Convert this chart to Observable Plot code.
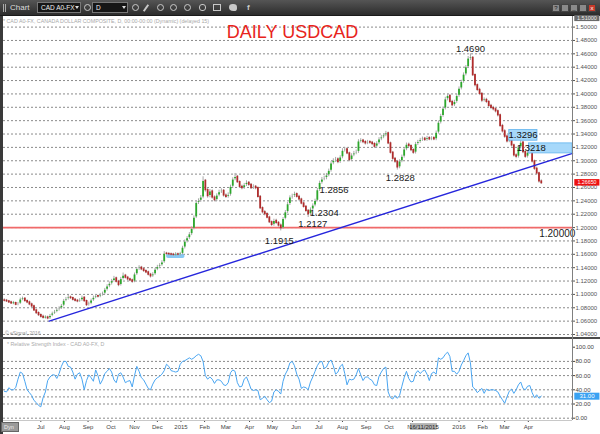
<!DOCTYPE html>
<html><head><meta charset="utf-8">
<script src="https://cdn.jsdelivr.net/npm/d3@7"></script>
<script src="https://cdn.jsdelivr.net/npm/@observablehq/plot@0.6"></script>
<style>
html,body{margin:0;padding:0;background:#fff;}
#wrap{position:relative;width:600px;height:434px;overflow:hidden;font-family:"Liberation Sans",Arial,sans-serif;background:#fff;}
.abs{position:absolute;}
#tb{left:0;top:0;width:600px;height:16px;background:linear-gradient(#555,#2c2c2c);border-bottom:1px solid #1a1a1a;box-sizing:border-box;}
#tb .t{position:absolute;color:#ddd;font-size:8px;top:3px;}
#tb .box{position:absolute;top:2px;height:11px;background:#161616;border:1px solid #777;box-sizing:border-box;color:#eee;font-size:6.5px;line-height:9px;padding-left:3px;white-space:nowrap;}
#tb .arr{position:absolute;top:3px;width:0;height:0;border-left:2.5px solid transparent;border-right:2.5px solid transparent;border-top:3px solid #ddd;}
#tb .ic{position:absolute;top:4px;width:7px;height:7px;border:1.4px solid #c8c8c8;border-radius:50%;box-sizing:border-box;}
#tb .wb{position:absolute;top:4px;width:8px;height:8px;background:#8a8a8a;border:1px solid #444;box-sizing:border-box;color:#222;font-size:6px;line-height:6px;text-align:center;}
#main{left:0;top:16px;}
#rsi{left:0;top:338px;}
svg{overflow:visible;}
</style></head>
<body>
<div id="wrap">
  <div id="tb" class="abs">
    <div class="abs" style="left:3px;top:4px;width:1px;height:8px;background:#aaa"></div>
    <div class="abs" style="left:5px;top:4px;width:1px;height:8px;background:#aaa"></div>
    <span class="t" style="left:10px">Chart</span>
    <div class="box" style="left:37px;width:44px">CAD A0-FX<div class="arr" style="left:37px"></div></div>
    <div class="ic" style="left:84px"></div>
    <div class="box" style="left:92px;width:36px">D<div class="arr" style="left:29px"></div></div>
    <div class="ic" style="left:132px"></div>
    <div class="abs" style="left:145px;top:4px;width:2px;height:8px;background:#c8c8c8;transform:rotate(35deg)"></div>
    <div class="ic" style="left:157px"></div>
    <div class="ic" style="left:170px"></div>
    <div class="ic" style="left:184px"></div>
    <div class="ic" style="left:199px;border-radius:3px"></div>
    <div class="abs" style="left:213px;top:4px;width:8px;height:7px;border:1.4px solid #c8c8c8;box-sizing:border-box"></div>
    <div class="abs" style="left:229px;top:4px;width:8px;height:7px;background:#c8c8c8;border-radius:50% 50% 40% 60%"></div>
    <span class="t" style="left:247px;font-weight:bold;color:#ccc">f</span>
    <div class="wb" style="left:552px">?</div>
    <div class="wb" style="left:561px"></div>
    <div class="wb" style="left:570px">_</div>
    <div class="wb" style="left:579px"></div>
    <div class="wb" style="left:588px;background:#c83a2a;color:#fff">x</div>
  </div>
  <div id="main" class="abs"></div>
  <div id="rsi" class="abs"></div>
  <div class="abs" style="left:3px;top:17.5px;font-size:5.3px;color:#a8a8a8;white-space:nowrap">* CAD A0-FX, CANADA DOLLAR COMPOSITE, D, 00:00-00:00 (Dynamic) (delayed 15)</div>
  <div class="abs" style="left:0;width:585px;top:23px;text-align:center;font-size:18px;line-height:18px;color:#e8231b">DAILY USDCAD</div>
  <div class="abs" style="left:5px;top:330px;font-size:5px;color:#999">© eSignal, 2016</div>
  <div class="abs" style="left:7px;top:340.5px;font-size:5.3px;color:#aaa;white-space:nowrap">* Relative Strength Index - CAD A0-FX, D</div>
  <div class="abs" style="left:0;top:16px;width:3px;height:418px;background:#3a3a3a"></div>
  <div class="abs" style="left:0;top:337px;width:600px;height:1.5px;background:#4a4a4a"></div>
  <div class="abs" style="left:572px;top:16px;width:1px;height:404px;background:#808080"></div>
  <div class="abs" style="left:3px;top:420px;width:569px;height:1px;background:#c8c8c8"></div>
  <div class="abs" style="left:1px;top:422px;width:18px;height:10px;background:#9a9a9a;border:1px solid #666;box-sizing:border-box;font-size:5.5px;color:#eee;line-height:8px;padding-left:2px">Dyn</div>
</div>
<script>
// ---- price candles (one bar every 3 calendar days from 2014-05-14) ----
const barStart = "2014-05-14";
const barStepDays = 3;
const open = [1.0910,1.0905,1.0895,1.0880,1.0865,1.0870,1.0845,1.0860,1.0925,1.0935,
1.0900,1.0880,1.0850,1.0820,1.0760,1.0720,1.0690,1.0665,1.0650,1.0655,
1.0640,1.0680,1.0715,1.0740,1.0770,1.0790,1.0830,1.0905,1.0930,1.0955,
1.0945,1.0920,1.0905,1.0895,1.0910,1.0950,1.0900,1.0840,1.0860,1.0910,
1.0950,1.0975,1.0965,1.0990,1.1010,1.1070,1.1120,1.1160,1.1200,1.1240,
1.1190,1.1140,1.1230,1.1280,1.1250,1.1225,1.1210,1.1190,1.1300,1.1380,
1.1400,1.1375,1.1350,1.1330,1.1295,1.1270,1.1300,1.1370,1.1410,1.1435,
1.1480,1.1610,1.1605,1.1600,1.1595,1.1590,1.1600,1.1595,1.1605,1.1700,
1.1790,1.1840,1.1900,1.1980,1.2150,1.2370,1.2400,1.2450,1.2700,1.2560,
1.2470,1.2540,1.2450,1.2410,1.2480,1.2530,1.2550,1.2480,1.2460,1.2490,
1.2610,1.2720,1.2760,1.2680,1.2610,1.2590,1.2635,1.2670,1.2640,1.2590,
1.2610,1.2590,1.2460,1.2290,1.2230,1.2200,1.2150,1.2080,1.2040,1.2100,
1.2070,1.2030,1.1990,1.2130,1.2230,1.2350,1.2450,1.2470,1.2500,1.2460,
1.2420,1.2360,1.2310,1.2250,1.2200,1.2270,1.2330,1.2400,1.2560,1.2670,
1.2720,1.2740,1.2780,1.2850,1.2960,1.3000,1.3020,1.2980,1.3050,1.3150,
1.3170,1.3110,1.3010,1.3080,1.3110,1.3130,1.3290,1.3300,1.3280,1.3260,
1.3280,1.3270,1.3250,1.3210,1.3260,1.3320,1.3350,1.3380,1.3410,1.3260,
1.3120,1.3030,1.2985,1.2900,1.2990,1.3060,1.3170,1.3240,1.3220,1.3160,
1.3120,1.3250,1.3280,1.3310,1.3330,1.3310,1.3340,1.3320,1.3340,1.3320,
1.3420,1.3570,1.3670,1.3780,1.3920,1.3970,1.3880,1.3830,1.3880,1.3970,
1.4080,1.4180,1.4290,1.4400,1.4530,1.4540,1.4280,1.4130,1.4060,1.4000,
1.3900,1.3910,1.3880,1.3820,1.3790,1.3770,1.3740,1.3680,1.3520,1.3440,
1.3360,1.3290,1.3320,1.3230,1.3080,1.3060,1.3200,1.3270,1.3130,1.3060,
1.3120,1.3170,1.2990,1.2880,1.2810,1.2690];
const close = [1.0905,1.0895,1.0880,1.0865,1.0870,1.0845,1.0860,1.0925,1.0935,1.0900,
1.0880,1.0850,1.0820,1.0760,1.0720,1.0690,1.0665,1.0650,1.0655,1.0640,
1.0680,1.0715,1.0740,1.0770,1.0790,1.0830,1.0905,1.0930,1.0955,1.0945,
1.0920,1.0905,1.0895,1.0910,1.0950,1.0900,1.0840,1.0860,1.0910,1.0950,
1.0975,1.0965,1.0990,1.1010,1.1070,1.1120,1.1160,1.1200,1.1240,1.1190,
1.1140,1.1230,1.1280,1.1250,1.1225,1.1210,1.1190,1.1300,1.1380,1.1400,
1.1375,1.1350,1.1330,1.1295,1.1270,1.1300,1.1370,1.1410,1.1435,1.1480,
1.1610,1.1605,1.1600,1.1595,1.1590,1.1600,1.1595,1.1605,1.1700,1.1790,
1.1840,1.1900,1.1980,1.2150,1.2370,1.2400,1.2450,1.2700,1.2560,1.2470,
1.2540,1.2450,1.2410,1.2480,1.2530,1.2550,1.2480,1.2460,1.2490,1.2610,
1.2720,1.2760,1.2680,1.2610,1.2590,1.2635,1.2670,1.2640,1.2590,1.2610,
1.2590,1.2460,1.2290,1.2230,1.2200,1.2150,1.2080,1.2040,1.2100,1.2070,
1.2030,1.1990,1.2130,1.2230,1.2350,1.2450,1.2470,1.2500,1.2460,1.2420,
1.2360,1.2310,1.2250,1.2200,1.2270,1.2330,1.2400,1.2560,1.2670,1.2720,
1.2740,1.2780,1.2850,1.2960,1.3000,1.3020,1.2980,1.3050,1.3150,1.3170,
1.3110,1.3010,1.3080,1.3110,1.3130,1.3290,1.3300,1.3280,1.3260,1.3280,
1.3270,1.3250,1.3210,1.3260,1.3320,1.3350,1.3380,1.3410,1.3260,1.3120,
1.3030,1.2985,1.2900,1.2990,1.3060,1.3170,1.3240,1.3220,1.3160,1.3120,
1.3250,1.3280,1.3310,1.3330,1.3310,1.3340,1.3320,1.3340,1.3320,1.3420,
1.3570,1.3670,1.3780,1.3920,1.3970,1.3880,1.3830,1.3880,1.3970,1.4080,
1.4180,1.4290,1.4400,1.4530,1.4540,1.4280,1.4130,1.4060,1.4000,1.3900,
1.3910,1.3880,1.3820,1.3790,1.3770,1.3740,1.3680,1.3520,1.3440,1.3360,
1.3290,1.3320,1.3230,1.3080,1.3060,1.3200,1.3270,1.3130,1.3060,1.3120,
1.3170,1.2990,1.2880,1.2810,1.2690,1.2665];
const high = [1.0935,1.0925,1.0910,1.0900,1.0895,1.0885,1.0880,1.0945,1.0960,1.0950,
1.0920,1.0900,1.0870,1.0840,1.0780,1.0740,1.0710,1.0690,1.0680,1.0675,
1.0700,1.0735,1.0760,1.0790,1.0815,1.0850,1.0925,1.0955,1.0985,1.0975,
1.0960,1.0940,1.0925,1.0935,1.0975,1.0965,1.0915,1.0885,1.0930,1.0975,
1.0995,1.0990,1.1015,1.1035,1.1090,1.1145,1.1185,1.1225,1.1270,1.1260,
1.1210,1.1255,1.1320,1.1300,1.1270,1.1245,1.1230,1.1320,1.1400,1.1430,
1.1420,1.1395,1.1370,1.1350,1.1315,1.1325,1.1390,1.1435,1.1460,1.1505,
1.1640,1.1630,1.1625,1.1620,1.1615,1.1625,1.1620,1.1630,1.1720,1.1815,
1.1865,1.1925,1.2010,1.2175,1.2395,1.2430,1.2480,1.2760,1.2720,1.2590,
1.2570,1.2565,1.2475,1.2505,1.2560,1.2580,1.2570,1.2505,1.2520,1.2635,
1.2745,1.2810,1.2780,1.2700,1.2635,1.2660,1.2700,1.2690,1.2660,1.2640,
1.2630,1.2610,1.2480,1.2310,1.2255,1.2225,1.2170,1.2100,1.2125,1.2125,
1.2090,1.2055,1.2150,1.2255,1.2375,1.2475,1.2500,1.2530,1.2520,1.2485,
1.2440,1.2385,1.2330,1.2270,1.2295,1.2355,1.2425,1.2585,1.2695,1.2750,
1.2770,1.2810,1.2875,1.2985,1.3030,1.3050,1.3045,1.3075,1.3180,1.3200,
1.3195,1.3130,1.3105,1.3140,1.3160,1.3315,1.3330,1.3320,1.3300,1.3305,
1.3300,1.3290,1.3270,1.3285,1.3345,1.3380,1.3405,1.3440,1.3430,1.3280,
1.3140,1.3050,1.3005,1.3015,1.3085,1.3195,1.3265,1.3265,1.3240,1.3180,
1.3275,1.3305,1.3335,1.3355,1.3350,1.3365,1.3360,1.3360,1.3360,1.3445,
1.3595,1.3695,1.3805,1.3950,1.4000,1.3990,1.3905,1.3905,1.3995,1.4105,
1.4205,1.4315,1.4425,1.4560,1.4600,1.4560,1.4300,1.4150,1.4085,1.4020,
1.3940,1.3935,1.3900,1.3845,1.3815,1.3795,1.3760,1.3700,1.3545,1.3465,
1.3385,1.3345,1.3340,1.3250,1.3105,1.3225,1.3300,1.3290,1.3150,1.3145,
1.3200,1.3190,1.3010,1.2905,1.2830,1.2715];
const low = [1.0885,1.0880,1.0865,1.0850,1.0845,1.0830,1.0830,1.0850,1.0905,1.0885,
1.0860,1.0830,1.0800,1.0745,1.0700,1.0670,1.0645,1.0630,1.0630,1.0620,
1.0625,1.0665,1.0700,1.0725,1.0750,1.0775,1.0815,1.0890,1.0915,1.0925,
1.0900,1.0885,1.0875,1.0880,1.0895,1.0880,1.0820,1.0825,1.0845,1.0895,
1.0935,1.0945,1.0950,1.0975,1.0995,1.1050,1.1100,1.1140,1.1185,1.1170,
1.1115,1.1125,1.1215,1.1230,1.1200,1.1190,1.1165,1.1175,1.1285,1.1360,
1.1355,1.1330,1.1310,1.1275,1.1245,1.1255,1.1285,1.1355,1.1395,1.1420,
1.1465,1.1585,1.1580,1.1575,1.1570,1.1570,1.1575,1.1575,1.1590,1.1680,
1.1770,1.1820,1.1880,1.1965,1.2135,1.2345,1.2380,1.2430,1.2530,1.2440,
1.2445,1.2425,1.2385,1.2390,1.2460,1.2510,1.2455,1.2435,1.2440,1.2470,
1.2590,1.2700,1.2660,1.2585,1.2565,1.2570,1.2615,1.2615,1.2570,1.2570,
1.2565,1.2440,1.2270,1.2205,1.2175,1.2130,1.2060,1.2015,1.2020,1.2045,
1.2005,1.1950,1.1975,1.2115,1.2210,1.2330,1.2425,1.2450,1.2440,1.2395,
1.2340,1.2290,1.2225,1.2150,1.2180,1.2250,1.2310,1.2385,1.2540,1.2650,
1.2700,1.2715,1.2760,1.2830,1.2940,1.2975,1.2955,1.2960,1.3030,1.3130,
1.3090,1.2985,1.2990,1.3060,1.3090,1.3110,1.3265,1.3255,1.3235,1.3240,
1.3245,1.3225,1.3185,1.3190,1.3240,1.3300,1.3330,1.3360,1.3240,1.3100,
1.3005,1.2960,1.2860,1.2880,1.2970,1.3040,1.3150,1.3195,1.3135,1.3095,
1.3100,1.3230,1.3260,1.3290,1.3290,1.3290,1.3300,1.3300,1.3300,1.3300,
1.3400,1.3550,1.3650,1.3760,1.3895,1.3860,1.3805,1.3810,1.3860,1.3950,
1.4060,1.4160,1.4270,1.4380,1.4500,1.4260,1.4105,1.4035,1.3975,1.3870,
1.3880,1.3855,1.3795,1.3765,1.3745,1.3715,1.3655,1.3500,1.3415,1.3335,
1.3265,1.3270,1.3205,1.3055,1.3030,1.3040,1.3180,1.3105,1.3035,1.3040,
1.3100,1.2965,1.2855,1.2785,1.2665,1.2645];
// ---- RSI values, one per bar ----
const rsi = [38,37,43,40,40,43,55,65,63,52,
40,36,32,25,22,18,16,29,37,53,
58,61,61,56,63,73,80,80,73,72,
65,55,62,64,55,40,53,61,57,52,
68,60,48,54,63,66,70,65,54,50,
62,64,58,50,52,53,44,60,73,66,
57,54,48,42,40,48,54,57,59,62,
67,76,73,67,66,65,66,76,80,81,
83,85,83,85,88,90,88,80,60,55,
58,55,49,54,54,52,47,46,50,64,
68,66,50,44,45,55,58,50,41,39,
40,39,26,28,31,26,22,24,37,40,
38,34,52,62,68,78,80,74,62,55,
42,44,43,40,51,58,66,74,79,80,
70,72,79,82,74,62,65,73,76,63,
47,55,54,55,61,70,61,53,58,58,
55,53,47,46,59,65,70,72,37,29,
27,32,28,32,45,57,66,56,51,52,
63,67,63,66,68,62,53,63,65,62,
85,83,85,90,93,87,66,66,62,66,
75,81,88,92,78,44,41,36,39,42,
35,41,39,40,40,39,37,31,26,21,
30,38,41,35,40,47,51,42,40,45,
46,36,29,33,28,31];

// ---- axes / ticks ----
const priceTicks = [1.04,1.06,1.08,1.10,1.12,1.14,1.16,1.18,1.20,1.22,1.24,1.26,1.28,1.30,1.32,1.34,1.36,1.38,1.40,1.42,1.44,1.46,1.48,1.50];
const rsiTicks = [0,20,40,60,80,100];
const rsiGrid = [0,20,30,40,60,70,80];
const monthNames = ["Jan","Feb","Mar","Apr","May","Jun","Jul","Aug","Sep","Oct","Nov","Dec"];
const firstMonth = "2014-07-01", lastMonth = "2016-04-01";
const hiddenMonths = ["2015-12-01"];   // covered by the cursor date box
const xDomain = ["2014-05-13","2016-05-29"];

// ---- drawn lines and annotations ----
const trendDates = ["2014-07-12","2016-05-29"];
const trendPrices = [1.060,1.311];
const supportLevel = 1.20;
const markDates = ["2014-12-15","2015-01-03"];
const markPrice = 1.1575;
const annLabels = ["1.4690","1.2828","1.2856","1.2304","1.2127","1.1915","1.20000"];
const annDates  = ["2016-01-16","2015-10-16","2015-07-21","2015-07-08","2015-06-23","2015-05-10","2016-05-09"];
const annPrices = [1.4675,1.2745,1.2562,1.2225,1.2050,1.1800,1.1905];
const boxLabels = ["1.3296","1.3218"];
const boxTextDates = ["2016-03-25","2016-04-05"];
const boxTextPrices = [1.3380,1.3185];
const boxX1 = ["2016-03-07","2016-04-02"], boxX2 = ["2016-04-13","2016-05-29"];
const boxY1 = [1.3460,1.3260], boxY2 = [1.3300,1.3110];
const cursorDate = "2015-11-16", cursorLabel = "16/11/2015";
const cursorBox = ["2015-10-30","2015-12-03"];
const topTag = 1.5135, topTagText = "1.51000";
const tagDates = ["2016-06-01","2016-07-04"], tagTextDate = "2016-06-17";

const D = s => new Date(s + "T00:00:00Z");
const n = Math.min(open.length, close.length, high.length, low.length, rsi.length);
const bars = d3.range(n).map(i => ({
  date: d3.utcDay.offset(D(barStart), barStepDays * i),
  open: open[i], high: high[i], low: low[i], close: close[i], rsi: rsi[i]
}));
const up = bars.filter(d => d.close >= d.open), down = bars.filter(d => d.close < d.open);
const last = bars[bars.length - 1];
const trend = trendDates.map((d, i) => ({date: D(d), p: trendPrices[i]}));
const markSeg = markDates.map(d => ({date: D(d), p: markPrice}));
const anns = annLabels.map((t, i) => ({t, date: D(annDates[i]), p: annPrices[i]}));
const boxes = boxLabels.map((t, i) => ({t, x1: D(boxX1[i]), x2: D(boxX2[i]), y1: boxY1[i], y2: boxY2[i], date: D(boxTextDates[i]), p: boxTextPrices[i]}));
const hidden = new Set(hiddenMonths.map(s => +D(s)));
const months = d3.utcMonth.range(D(firstMonth), d3.utcMonth.offset(D(lastMonth), 1)).filter(d => !hidden.has(+d));
const fmtMonth = d => d.getUTCMonth() === 0 ? String(d.getUTCFullYear()) : monthNames[d.getUTCMonth()];
const xOpt = {type: "utc", domain: xDomain.map(D), range: [3, 572]};
const font = "Liberation Sans, Arial, sans-serif";

const main = Plot.plot({
  width: 600, height: 322, marginLeft: 3, marginRight: 28, marginTop: 0, marginBottom: 0,
  style: {fontFamily: font, fontSize: "6px", color: "#555", background: "transparent", overflow: "visible"},
  x: {...xOpt, axis: null},
  y: {domain: [1.04, 1.50], range: [318, 10.6], axis: "right", ticks: priceTicks, tickFormat: d => d.toFixed(5), tickSize: 2, tickPadding: 1, label: null},
  marks: [
    Plot.ruleY(priceTicks, {stroke: "#8a8a8a", strokeDasharray: "2,2", strokeWidth: 1}),
    Plot.ruleY([supportLevel], {stroke: "#f06a6a", strokeWidth: 1.6}),
    Plot.line(markSeg, {x: "date", y: "p", stroke: "#86c8f4", strokeWidth: 4, strokeLinecap: "round"}),
    Plot.ruleX(bars, {x: "date", y1: "low", y2: "high", stroke: "#a8a8a8", strokeWidth: 1}),
    Plot.ruleX(up, {x: "date", y1: "open", y2: "close", stroke: "#2ca82c", strokeWidth: 1.8, insetTop: -0.6, insetBottom: -0.6}),
    Plot.ruleX(down, {x: "date", y1: "open", y2: "close", stroke: "#b02c2c", strokeWidth: 1.8, insetTop: -0.6, insetBottom: -0.6}),
    Plot.line(trend, {x: "date", y: "p", stroke: "#2626dc", strokeWidth: 1.4}),
    Plot.rect(boxes, {x1: "x1", x2: "x2", y1: "y1", y2: "y2", fill: "#a6d8fa", stroke: "#62b4ee", strokeWidth: 0.8}),
    Plot.text(boxes, {x: "date", y: "p", text: "t", fontSize: 9.5, fill: "#111", textAnchor: d => d.t === "1.3218" ? "start" : "middle"}),
    Plot.text(anns, {x: "date", y: "p", text: "t", fontSize: d => d.t === "1.20000" ? 10 : 9.5, fill: "#1a1a1a"}),
    Plot.ruleY([topTag], {x1: D(tagDates[0]), x2: D(tagDates[1]), stroke: "#6a6a6a", strokeWidth: 6}),
    Plot.text([topTag], {x: D(tagTextDate), y: d => d, text: () => topTagText, fill: "#eee", fontSize: 5.5}),
    Plot.ruleY([last.close], {x1: D(tagDates[0]), x2: D(tagDates[1]), stroke: "#ee1111", strokeWidth: 6.5, dy: -0.8}),
    Plot.text([last.close], {x: D(tagTextDate), y: d => d, dy: -1, text: d => d.toFixed(5), fill: "#fff", fontSize: 5.3})
  ]
});
document.getElementById("main").appendChild(main);

const rsiPlot = Plot.plot({
  width: 600, height: 96, marginLeft: 3, marginRight: 28, marginTop: 0, marginBottom: 14,
  style: {fontFamily: font, fontSize: "6px", color: "#444", background: "transparent", overflow: "visible"},
  x: {...xOpt, ticks: months, tickFormat: fmtMonth, tickSize: 2, tickPadding: 2, label: null},
  y: {domain: [0, 100], range: [79.7, 8.7], axis: "right", ticks: rsiTicks, tickFormat: d => d.toFixed(2), tickSize: 2, tickPadding: 1, label: null},
  marks: [
    Plot.ruleY(rsiGrid, {stroke: "#8a8a8a", strokeDasharray: "2,2", strokeWidth: 1}),
    Plot.line(bars, {x: "date", y: "rsi", stroke: "#4aa6f2", strokeWidth: 1}),
    Plot.rect([0], {x1: D(cursorBox[0]), x2: D(cursorBox[1]), y1: -8.5, y2: -16.5, fill: "#b4b4b4", stroke: "#888", strokeWidth: 0.5}),
    Plot.text([cursorLabel], {x: D(cursorDate), y: -12.5, text: d => d, fill: "#222", fontSize: 6}),
    Plot.ruleY([last.rsi], {x1: D(tagDates[0]), x2: D(tagDates[1]), stroke: "#3aa2f2", strokeWidth: 7}),
    Plot.text([last.rsi], {x: D(tagTextDate), y: d => d, text: d => d.toFixed(2), fill: "#fff", fontSize: 6})
  ]
});
document.getElementById("rsi").appendChild(rsiPlot);
</script>
</body></html>
